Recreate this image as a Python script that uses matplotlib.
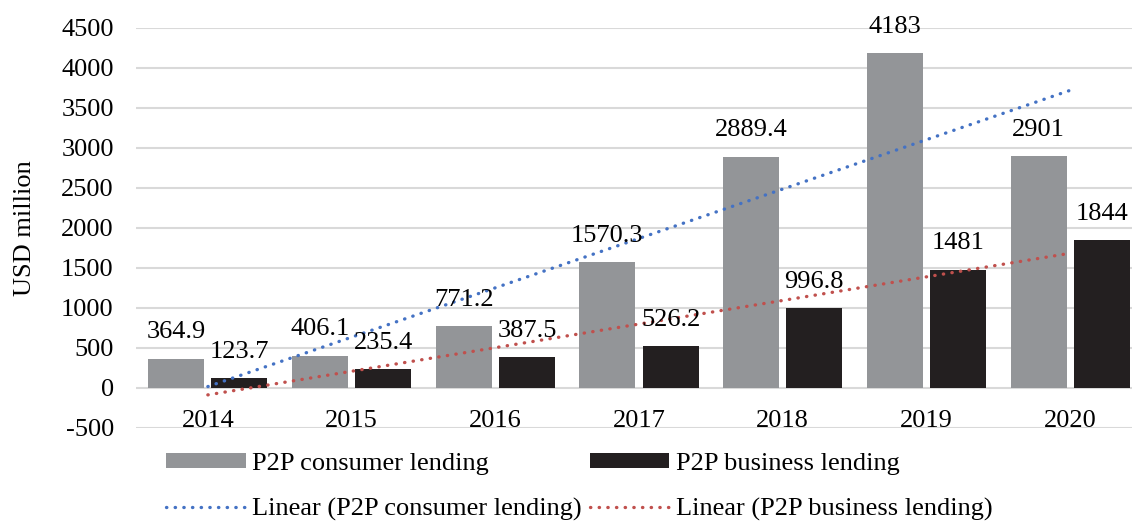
import matplotlib
matplotlib.use("Agg")
import matplotlib.pyplot as plt
import numpy as np

years = ["2014", "2015", "2016", "2017", "2018", "2019", "2020"]
consumer = [364.9, 406.1, 771.2, 1570.3, 2889.4, 4183, 2901]
business = [123.7, 235.4, 387.5, 526.2, 996.8, 1481, 1844]
consumer_labels = ["364.9", "406.1", "771.2", "1570.3", "2889.4", "4183", "2901"]
business_labels = ["123.7", "235.4", "387.5", "526.2", "996.8", "1481", "1844"]
y_ticks = [-500, 0, 500, 1000, 1500, 2000, 2500, 3000, 3500, 4000, 4500]

plt.rcParams.update({
    "font.family": ["Liberation Serif", "DejaVu Serif"],
    "font.size": 19,
    "axes.unicode_minus": False,
})

GRAY = "#939598"
BLACK = "#231F20"
BLUE = "#4472C4"
RED = "#C0504D"
GRID = "#D9D9D9"

W, H = 1132, 521
fig = plt.figure(figsize=(W / 100, H / 100), dpi=100)
ax = fig.add_axes([136 / W, 1 - 428 / H, (1142 - 136) / W, 400 / H])

x = np.arange(len(years))
width = 0.39
off = 0.22

ax.bar(x - off, consumer, width, color=GRAY, label="P2P consumer lending", zorder=2)
ax.bar(x + off, business, width, color=BLACK, label="P2P business lending", zorder=2)

# Excel-style linear trendlines (fit on category index 1..n)
xi = x + 1
for vals, col, lab in [(consumer, BLUE, "Linear (P2P consumer lending)"),
                       (business, RED, "Linear (P2P business lending)")]:
    k, b = np.polyfit(xi, vals, 1)
    ax.plot(x, k * xi + b, color=col, lw=2.4, linestyle=(0, (0.1, 2.5)),
            dash_capstyle="round", label=lab, zorder=3)

for i in range(len(years)):
    ax.annotate(consumer_labels[i], (x[i] - off, consumer[i]), xytext=(0, 19),
                textcoords="offset points", ha="center", va="center", zorder=4)
    ax.annotate(business_labels[i], (x[i] + off, business[i]), xytext=(0, 19),
                textcoords="offset points", ha="center", va="center", zorder=4)
    ax.text(x[i], -490, years[i], ha="center", va="baseline")

ax.set_xlim(-0.5, len(years) - 0.5)
ax.set_ylim(-500, 4500)
ax.set_yticks(y_ticks)
ax.set_xticks([])
ax.tick_params(axis="y", length=0, pad=16)
ax.yaxis.grid(True, color=GRID, lw=1.5, zorder=0)
ax.set_axisbelow(True)
for s in ax.spines.values():
    s.set_visible(False)
ax.set_ylabel("USD million", labelpad=18)

h, l = ax.get_legend_handles_labels()
# handles come back as [line, line, bar, bar]; columns fill first
order = [2, 0, 3, 1]
h = [h[j] for j in order]
l = [l[j] for j in order]
fig.legend(h, l, ncol=2, loc="lower left", bbox_to_anchor=(148 / W, -0.035),
           frameon=False, handlelength=3.0, handleheight=0.5, handletextpad=0.25,
           columnspacing=0.3, labelspacing=0.85, borderpad=0.2)

fig.savefig("out.png", dpi=100)
